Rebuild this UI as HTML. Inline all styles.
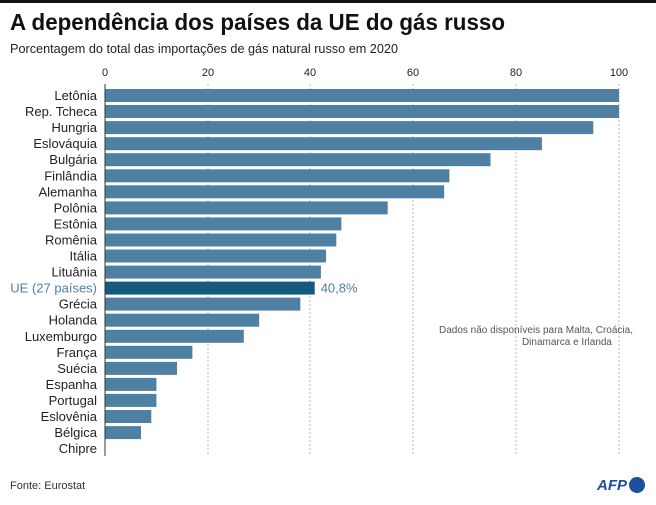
<!DOCTYPE html>
<html><head><meta charset="utf-8"><style>
body{margin:0;background:#fff;width:656px;height:500px;overflow:hidden;font-family:"Liberation Sans",sans-serif}
</style></head><body>
<svg width="656" height="500" xmlns="http://www.w3.org/2000/svg" font-family="Liberation Sans, sans-serif">
<rect x="0" y="0" width="656" height="3" fill="#111"/>
<text x="10" y="30" font-size="23" font-weight="bold" fill="#111" textLength="495" lengthAdjust="spacingAndGlyphs">A dependência dos países da UE do gás russo</text>
<text x="10" y="53" font-size="13" fill="#222" textLength="388" lengthAdjust="spacingAndGlyphs">Porcentagem do total das importações de gás natural russo em 2020</text>
<g font-size="11" fill="#222" text-anchor="middle">
<text x="105" y="76">0</text><text x="208" y="76">20</text><text x="310" y="76">40</text><text x="413" y="76">60</text><text x="516" y="76">80</text><text x="619" y="76">100</text>
</g>
<g stroke="#bbb" stroke-dasharray="2,2" stroke-width="1">
<line x1="208" y1="84" x2="208" y2="456"/><line x1="310" y1="84" x2="310" y2="456"/><line x1="413" y1="84" x2="413" y2="456"/><line x1="516" y1="84" x2="516" y2="456"/><line x1="619" y1="84" x2="619" y2="456"/>
</g>
<g id="bars" font-size="13" text-anchor="end" fill="#222"></g>
<line x1="105" y1="84" x2="105" y2="456" stroke="#333" stroke-width="1"/>
<text x="633" y="333" font-size="10" fill="#555" text-anchor="end">Dados não disponíveis para Malta, Croácia,</text>
<text x="612" y="345" font-size="10" fill="#555" text-anchor="end">Dinamarca e Irlanda</text>
<text x="10" y="489" font-size="11" fill="#333">Fonte: Eurostat</text>
<text x="597" y="490" font-size="15" font-weight="bold" font-style="italic" fill="#1b4fa0">AFP</text>
<circle cx="637" cy="485" r="8" fill="#1b4fa0"/>
</svg>
<script>
var d=[["Letônia",100],["Rep. Tcheca",100],["Hungria",95],["Eslováquia",85],["Bulgária",75],["Finlândia",67],["Alemanha",66],["Polônia",55],["Estônia",46],["Romênia",45],["Itália",43],["Lituânia",42],["UE (27 países)",40.8],["Grécia",38],["Holanda",30],["Luxemburgo",27],["França",17],["Suécia",14],["Espanha",10],["Portugal",10],["Eslovênia",9],["Bélgica",7],["Chipre",0]];
var g=document.getElementById("bars"),s="";
d.forEach(function(r,i){var y=89+i*16.05,eu=i==12,w=r[1]*5.14;
s+='<rect x="105" y="'+y.toFixed(1)+'" width="'+w.toFixed(1)+'" height="13" fill="'+(eu?'#135a7e':'#4f80a3')+'"/>';
s+='<text x="97" y="'+(y+11).toFixed(1)+'" fill="'+(eu?'#4f80a3':'#222')+'">'+r[0]+'</text>';
if(eu)s+='<text x="'+(105+w+6).toFixed(1)+'" y="'+(y+11).toFixed(1)+'" text-anchor="start" fill="#4f80a3">40,8%</text>';});
g.innerHTML=s;
</script>
</body></html>
